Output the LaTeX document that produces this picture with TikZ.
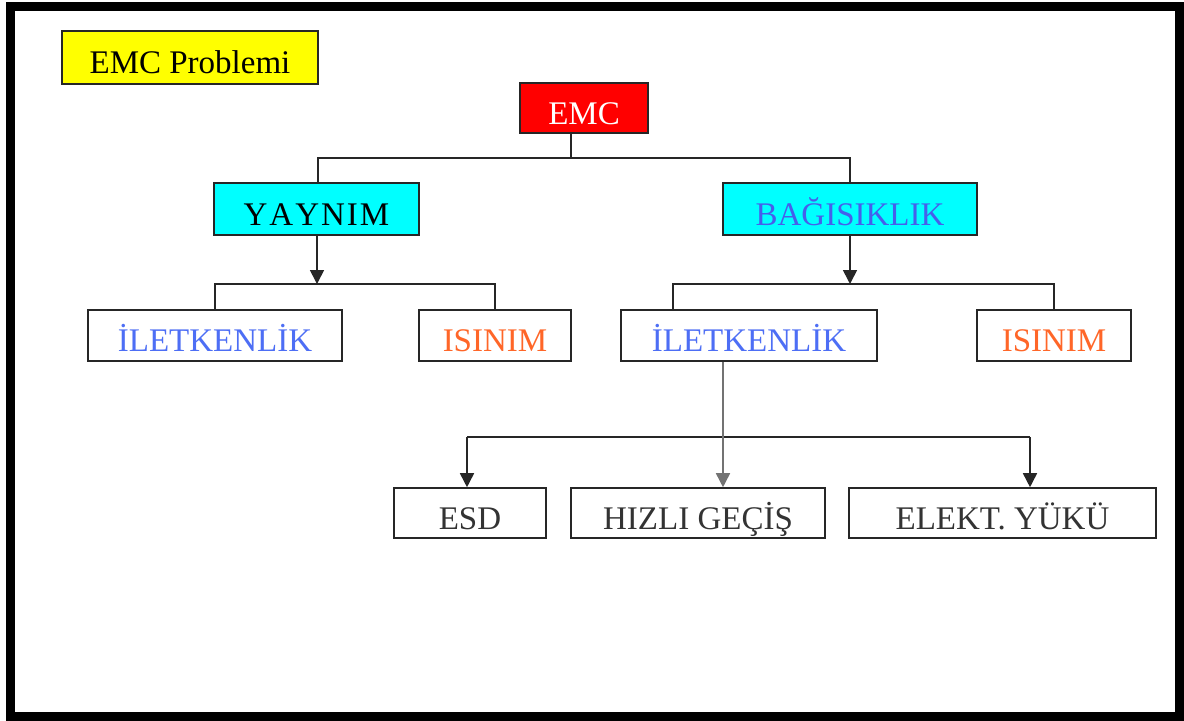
\documentclass[tikz,border=0pt]{standalone}
\usepackage{fontspec}
\setmainfont{Liberation Serif}
\usetikzlibrary{arrows.meta}
\definecolor{cblue}{RGB}{77,110,245}
\definecolor{cbag}{RGB}{70,95,235}
\definecolor{corange}{RGB}{255,102,40}
\definecolor{ccyan}{RGB}{0,255,255}
\definecolor{cyel}{RGB}{255,255,0}
\definecolor{cred}{RGB}{255,0,0}
\begin{document}
\begin{tikzpicture}[x=0.5pt,y=-0.5pt,
  box/.style={draw=black!85,line width=0.8pt,inner sep=0pt,minimum height=25.5pt,
    font=\fontsize{16.5}{18}\selectfont,text height=16pt,text depth=0pt},
  conn/.style={draw=black!85,line width=0.8pt},
  arr/.style={conn,-{Triangle[width=7pt,length=7pt]}}]
\useasboundingbox (0,0) rectangle (1184,720);
\fill[white] (0,0) rectangle (1184,720);
\draw[line width=4.5pt] (10.5,6) rectangle (1179.5,716);
% nodes
\node[box,fill=cyel,minimum width=128pt,minimum height=26.5pt] (prob) at (190,57.5) {EMC Problemi};
\node[box,fill=cred,text=white,minimum width=64pt,minimum height=25pt] (emc) at (584,108) {EMC};
\node[box,fill=ccyan,minimum width=102.5pt,minimum height=26pt] (yay) at (316.5,209) {Y\kern1ptA\kern1ptY\kern1ptN\kern1ptI\kern1ptM};
\node[box,fill=ccyan,text=cbag,minimum width=127pt,minimum height=26pt] (bag) at (850,209) {BAĞISIKLIK};
\node[box,text=cblue,minimum width=127pt] (ilet1) at (215,335.5) {İLETKENLİK};
\node[box,text=corange,minimum width=76pt] (isi1) at (495,335.5) {ISINIM};
\node[box,text=cblue,minimum width=128pt] (ilet2) at (749,335.5) {İLETKENLİK};
\node[box,text=corange,minimum width=77pt] (isi2) at (1054,335.5) {ISINIM};
\node[box,text=black!80,minimum width=76pt,minimum height=25pt] (esd) at (470,513) {ESD};
\node[box,text=black!80,minimum width=127pt,minimum height=25pt] (hiz) at (698,513) {HIZLI GEÇİŞ};
\node[box,text=black!80,minimum width=153.5pt,minimum height=25pt] (ele) at (1002.5,513) {ELEKT. YÜKÜ};
% junctions
\coordinate (j1) at (571,158);
\coordinate (j2) at (317,284);
\coordinate (j3) at (850,284);
\coordinate (b1) at (673,284);
\coordinate (c1) at (723,361);
\coordinate (h1) at (467,437);
\coordinate (h2) at (1030,437);
% level 1
\draw[conn] (emc.south -| j1) -- (j1);
\draw[conn] (yay.north -| 318,0) |- (j1) -| (bag.north);
% level 2 left
\draw[arr] (yay.south -| j2) -- (j2);
\draw[conn] (ilet1.north) |- (j2) -| (isi1.north);
% level 2 right
\draw[arr] (bag.south) -- (j3);
\draw[conn] (b1 |- ilet2.north) -- (b1) -- (j3) -| (isi2.north);
% level 3
\draw[conn] (h1) -- (h2);
\draw[arr] (h1) -- (h1 |- esd.north);
\draw[arr] (h2) -- (h2 |- ele.north);
\draw[arr,draw=black!55] (c1 |- ilet2.south) -- (c1 |- hiz.north);
\end{tikzpicture}
\end{document}
